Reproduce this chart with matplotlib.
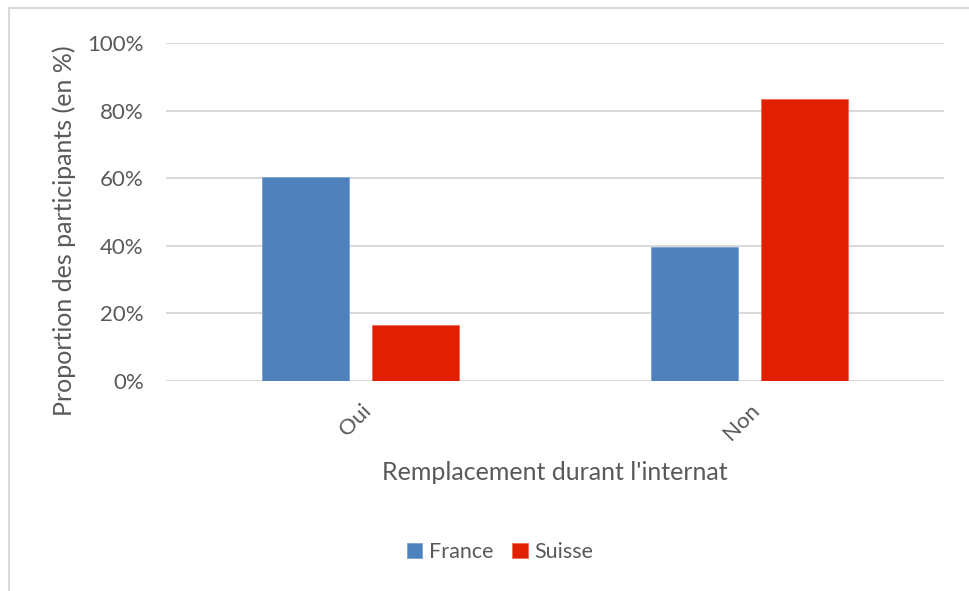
import matplotlib
matplotlib.use("Agg")
import matplotlib.pyplot as plt
import numpy as np
from matplotlib.patches import Rectangle

categories = ["Oui", "Non"]
series_names = ["France", "Suisse"]
france = [60.4, 39.6]
suisse = [16.7, 83.3]
yticks = [0, 20, 40, 60, 80, 100]
ytick_labels = ["0%", "20%", "40%", "60%", "80%", "100%"]

colors = ["#4F81BD", "#E12002"]
edge_colors = ["#7DA0D0", "#EE6A55"]
text_color = "#595959"

plt.rcParams['font.family'] = ['Lato', 'DejaVu Sans']

W, H = 969, 591
fig = plt.figure(figsize=(W / 100, H / 100), dpi=100)
fig.patch.set_facecolor("white")
fig.patches.append(Rectangle((9 / W, -0.2), 1.2, 1.2 - 8 / H, transform=fig.transFigure,
                             fill=False, edgecolor="#D9D9D9", linewidth=1.5))

left, right, top, bottom = 166, 944, 43, 381
ax = fig.add_axes([left / W, 1 - bottom / H, (right - left) / W, (bottom - top) / H])

x = np.arange(len(categories))
bw = 0.2237
off = 0.142
for i, (vals, name) in enumerate(zip([france, suisse], series_names)):
    ax.bar(x + (i * 2 - 1) * off, vals, width=bw, color=colors[i], label=name,
           edgecolor=edge_colors[i], linewidth=0.6, zorder=3)

ax.set_xlim(-0.5, 1.5)
ax.set_ylim(0, 100)
ax.set_yticks(yticks)
ax.set_yticklabels(ytick_labels, fontsize=16, color=text_color)
ax.set_xticks(x)
ax.set_xticklabels(categories, rotation=45, ha="right", rotation_mode="anchor",
                   fontsize=16, color=text_color)
ax.tick_params(axis="both", length=0)
ax.tick_params(axis="y", pad=16)
ax.tick_params(axis="x", pad=14)
ax.yaxis.grid(True, color="#D9D9D9", linewidth=1.4, zorder=0)
ax.set_axisbelow(True)
for s in ax.spines.values():
    s.set_visible(False)

ax.set_ylabel("Proportion des participants (en %)", fontsize=18, color=text_color)
ax.yaxis.set_label_coords((76 - left) / (right - left), (bottom - 231) / (bottom - top))
ax.set_xlabel("Remplacement durant l'internat", fontsize=18, color=text_color, labelpad=12)

leg = fig.legend(loc="center", bbox_to_anchor=(500 / W, 1 - 552 / H), ncol=2, frameon=False,
                 fontsize=15.5, handlelength=0.7, handleheight=0.7, handletextpad=0.3,
                 columnspacing=0.9)
for t in leg.get_texts():
    t.set_color(text_color)

fig.savefig("out.png", dpi=100)
